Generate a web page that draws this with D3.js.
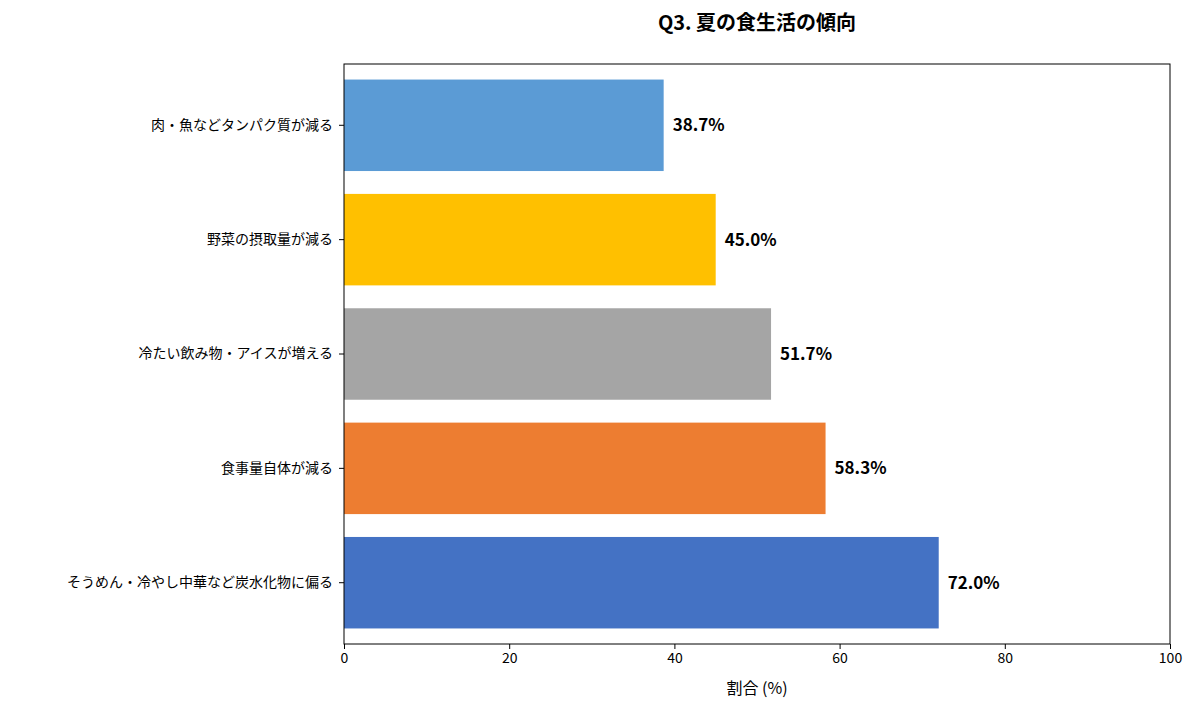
<!DOCTYPE html>
<html><head><meta charset="utf-8">
<script src="https://cdn.jsdelivr.net/npm/d3@7"></script>
<style>body{margin:0;background:#fff;font-family:"Noto Sans CJK JP","Noto Sans",sans-serif;}</style>
</head><body>
<svg id="chart" width="1200" height="711"></svg>
<script>
const categories = ['肉・魚などタンパク質が減る', '野菜の摂取量が減る', '冷たい飲み物・アイスが増える', '食事量自体が減る', 'そうめん・冷やし中華など炭水化物に偏る'];
const values = [38.7, 45.0, 51.7, 58.3, 72.0];
const colors = ['#5b9bd5', '#ffc000', '#a5a5a5', '#ed7d31', '#4472c4'];
const xTicks = [0, 20, 40, 60, 80, 100];

const plotLeft = 344, plotRight = 1170, plotTop = 64, plotBottom = 644;
const svg = d3.select('#chart');

const x = d3.scaleLinear().domain([0, 100]).range([plotLeft, plotRight]);
const y = d3.scaleBand().domain(categories).range([plotTop, plotBottom]).paddingInner(0.2).paddingOuter(0.136);

svg.selectAll('.bar').data(categories).enter().append('rect')
    .attr('x', x(0)).attr('y', d => y(d))
    .attr('width', (d, i) => x(values[i]) - x(0))
    .attr('height', y.bandwidth())
    .attr('fill', (d, i) => colors[i]);

svg.selectAll('.val').data(categories).enter().append('text')
    .attr('x', (d, i) => x(values[i]) + 9)
    .attr('y', d => y(d) + y.bandwidth() / 2)
    .attr('dy', '0.35em').attr('font-size', 17).attr('font-weight', 'bold')
    .text((d, i) => values[i].toFixed(1) + '%');

svg.append('rect').attr('x', plotLeft).attr('y', plotTop).attr('width', plotRight - plotLeft).attr('height', plotBottom - plotTop)
    .attr('fill', 'none').attr('stroke', '#000').attr('stroke-width', 1);

const xAxis = svg.append('g').attr('transform', `translate(0,${plotBottom})`)
    .call(d3.axisBottom(x).tickValues(xTicks).tickSize(5).tickPadding(4));
xAxis.select('.domain').remove();
xAxis.selectAll('text').attr('font-size', 14).attr('font-family', '"Noto Sans CJK JP",sans-serif').attr('fill', '#000');

const yAxis = svg.append('g').attr('transform', `translate(${plotLeft},0)`)
    .call(d3.axisLeft(y).tickSize(5).tickPadding(6));
yAxis.select('.domain').remove();
yAxis.selectAll('text').attr('font-size', 14).attr('font-family', '"Noto Sans CJK JP",sans-serif').attr('fill', '#000');

svg.append('text').attr('x', (plotLeft + plotRight) / 2).attr('y', 694).attr('text-anchor', 'middle')
    .attr('font-size', 16).text('割合 (%)');

svg.append('text').attr('x', (plotLeft + plotRight) / 2).attr('y', 30).attr('text-anchor', 'middle')
    .attr('font-size', 20).attr('font-weight', 'bold').text('Q3. 夏の食生活の傾向');
</script>
</body></html>
